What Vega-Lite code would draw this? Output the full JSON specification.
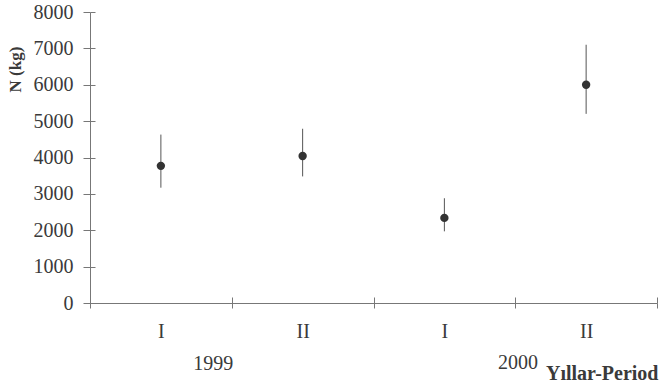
{
  "$schema": "https://vega.github.io/schema/vega-lite/v6.json",
  "width": 567,
  "height": 291,
  "autosize": {"type": "none"},
  "padding": {"left": 90, "top": 12, "right": 2, "bottom": 85},
  "background": "white",
  "config": {
    "view": {"stroke": null},
    "font": "Liberation Serif",
    "text": {"font": "Liberation Serif"},
    "axis": {
      "labelFont": "Liberation Serif",
      "titleFont": "Liberation Serif",
      "labelColor": "#3a3a3a",
      "titleColor": "#3a3a3a",
      "domainColor": "#777777",
      "tickColor": "#777777",
      "domainWidth": 1,
      "tickWidth": 1,
      "grid": false,
      "labelOverlap": false
    }
  },
  "data": {
    "values": [
      {"period": "1999 I", "year": "1999", "n": 3770, "lo": 3170, "hi": 4630},
      {"period": "1999 II", "year": "1999", "n": 4040, "lo": 3480, "hi": 4790},
      {"period": "2000 I", "year": "2000", "n": 2340, "lo": 1970, "hi": 2880},
      {"period": "2000 II", "year": "2000", "n": 6000, "lo": 5200, "hi": 7100}
    ]
  },
  "resolve": {"axis": {"x": "independent", "y": "independent"}},
  "layer": [
    {
      "mark": {"type": "rule", "color": "#555555", "strokeWidth": 1},
      "encoding": {
        "x": {
          "field": "period",
          "type": "nominal",
          "sort": null,
          "scale": {"paddingInner": 0, "paddingOuter": 0},
          "axis": {
            "orient": "bottom",
            "tickBand": "extent",
            "tickSize": 5,
            "labelAngle": 0,
            "labelFontSize": 20,
            "labelPadding": 13,
            "labelExpr": "split(datum.value, ' ')[1]",
            "title": "Yıllar-Period",
            "titleFontSize": 20,
            "titleFontWeight": "bold",
            "titleAnchor": "end",
            "titleAlign": "right",
            "titleBaseline": "alphabetic",
            "titleX": 568,
            "titleY": 76
          }
        },
        "y": {
          "field": "lo",
          "type": "quantitative",
          "scale": {"domain": [0, 8000], "nice": false},
          "axis": {
            "orient": "left",
            "values": [0, 1000, 2000, 3000, 4000, 5000, 6000, 7000, 8000],
            "format": "d",
            "tickSize": 7,
            "labelFontSize": 20,
            "labelPadding": 10,
            "title": "N (kg)",
            "titleFontSize": 17,
            "titleFontWeight": "bold",
            "titleAngle": -90,
            "titleAlign": "center",
            "titleBaseline": "middle",
            "titleX": -75,
            "titleY": 57
          }
        },
        "y2": {"field": "hi"}
      }
    },
    {
      "mark": {"type": "point", "filled": true, "color": "#333333", "opacity": 1, "size": 70},
      "encoding": {
        "x": {
          "field": "period",
          "type": "nominal",
          "sort": null,
          "axis": {
            "orient": "bottom",
            "tickBand": "extent",
            "tickSize": -6,
            "labels": false,
            "domain": false,
            "title": null
          }
        },
        "y": {
          "field": "n",
          "type": "quantitative",
          "axis": {
            "orient": "left",
            "values": [0, 1000, 2000, 3000, 4000, 5000, 6000, 7000, 8000],
            "tickSize": -5,
            "labels": false,
            "domain": false,
            "title": null
          }
        }
      }
    },
    {
      "transform": [{"filter": "datum.period === '1999 I'"}],
      "mark": {"type": "text", "fontSize": 20, "color": "#3a3a3a", "baseline": "alphabetic", "align": "center", "dy": 67},
      "encoding": {
        "x": {"field": "period", "type": "nominal", "sort": null, "bandPosition": 0.87, "axis": null},
        "y": {"datum": 0, "type": "quantitative", "axis": null},
        "text": {"field": "year"}
      }
    },
    {
      "transform": [{"filter": "datum.period === '2000 II'"}],
      "mark": {"type": "text", "fontSize": 20, "color": "#3a3a3a", "baseline": "alphabetic", "align": "center", "dy": 66},
      "encoding": {
        "x": {"field": "period", "type": "nominal", "sort": null, "bandPosition": 0.02, "axis": null},
        "y": {"datum": 0, "type": "quantitative", "axis": null},
        "text": {"field": "year"}
      }
    }
  ]
}
